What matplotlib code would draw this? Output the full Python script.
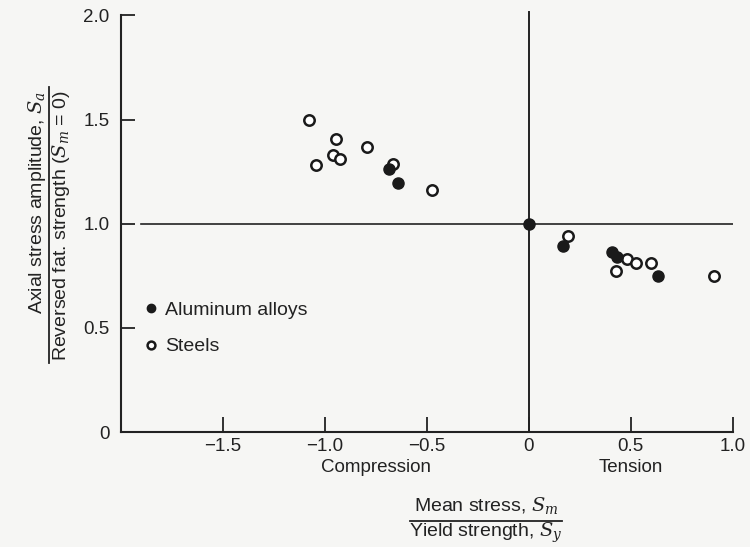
import matplotlib.pyplot as plt
from matplotlib.lines import Line2D

plt.rcParams['font.family'] = ['Liberation Sans', 'DejaVu Sans']
plt.rcParams['mathtext.fontset'] = 'dejavuserif'

# Aluminum alloys (filled)
alu_x = [-0.685, -0.641, 0.0, 0.17, 0.41, 0.431, 0.632]
alu_y = [1.263, 1.196, 1.0, 0.894, 0.864, 0.838, 0.75]

# Steels (open)
steel_x = [-1.075, -1.043, -0.945, -0.958, -0.925, -0.794, -0.665, -0.475,
           0.194, 0.483, 0.525, 0.598, 0.426, 0.91]
steel_y = [1.50, 1.284, 1.409, 1.332, 1.313, 1.367, 1.285, 1.160,
           0.939, 0.832, 0.811, 0.811, 0.775, 0.75]

xticks = [-1.5, -1.0, -0.5, 0, 0.5, 1.0]
xticklabels = ['\u22121.5', '\u22121.0', '\u22120.5', '0', '0.5', '1.0']
yticks = [0, 0.5, 1.0, 1.5, 2.0]
yticklabels = ['0', '0.5', '1.0', '1.5', '2.0']

ink = '#222222'
bg = '#f6f6f4'
fig = plt.figure(figsize=(7.5, 5.47), dpi=100, facecolor=bg)
ax = fig.add_axes([0.161, 0.2102, 0.816, 0.7615], facecolor=bg)

ax.set_xlim(-2.0, 1.0)
ax.set_ylim(0, 2.0)

# reference lines
ax.plot([0, 0], [0, 2.015], color=ink, lw=1.4, clip_on=False, zorder=1)
ax.plot([-1.9, 1.0], [1.0, 1.0], color=ink, lw=1.2, zorder=1)

ax.plot(steel_x, steel_y, 'o', ms=7.5, mfc='white', mec='#1a1a1a', mew=1.8,
        ls='none', label='Steels', zorder=3)
ax.plot(alu_x, alu_y, 'o', ms=8, mfc='#1a1a1a', mec='#1a1a1a',
        ls='none', label='Aluminum alloys', zorder=4)

for s in ['top', 'right']:
    ax.spines[s].set_visible(False)
for s in ['left', 'bottom']:
    ax.spines[s].set_linewidth(1.5)
    ax.spines[s].set_color(ink)

ax.set_xticks(xticks)
ax.set_xticklabels(xticklabels)
ax.set_yticks(yticks)
ax.set_yticklabels(yticklabels)
ax.tick_params(axis='x', direction='in', length=11, width=1.3, pad=4,
               labelsize=13.5, colors=ink)
ax.tick_params(axis='y', direction='in', length=10, width=1.3, pad=8,
               labelsize=13.5, colors=ink)

handles, labels = ax.get_legend_handles_labels()
leg = ax.legend(handles[::-1], labels[::-1], loc='upper left',
                bbox_to_anchor=(0.005, 0.355), frameon=False, fontsize=14,
                handletextpad=0.2, labelspacing=0.95, markerscale=0.75,
                handlelength=1.0)
for t in leg.get_texts():
    t.set_color(ink)

# Compression / Tension
ax.text(-0.75, -0.17, 'Compression', ha='center', va='center', fontsize=13.5,
        color=ink)
ax.text(0.5, -0.17, 'Tension', ha='center', va='center', fontsize=13.5,
        color=ink)

# x label as a fraction
fig.text(486 / 750, 1 - 505 / 547, 'Mean stress, $S_m$', ha='center',
         va='center', fontsize=14, color=ink)
fig.add_artist(Line2D([410 / 750, 562 / 750], [1 - 521 / 547, 1 - 521 / 547],
                      color=ink, lw=1.3))
fig.text(486 / 750, 1 - 533 / 547, 'Yield strength, $S_y$', ha='center',
         va='center', fontsize=14, color=ink)

# y label as a fraction
fig.text(37 / 750, 1 - 202 / 547, 'Axial stress amplitude, $S_a$', rotation=90,
         ha='center', va='center', fontsize=14, color=ink)
fig.add_artist(Line2D([49 / 750, 49 / 750], [1 - 87 / 547, 1 - 363 / 547],
                      color=ink, lw=1.3))
fig.text(61 / 750, 1 - 226 / 547, 'Reversed fat. strength ($S_m$ = 0)',
         rotation=90, ha='center', va='center', fontsize=14, color=ink)

fig.savefig('out.png', dpi=100, facecolor=bg)
